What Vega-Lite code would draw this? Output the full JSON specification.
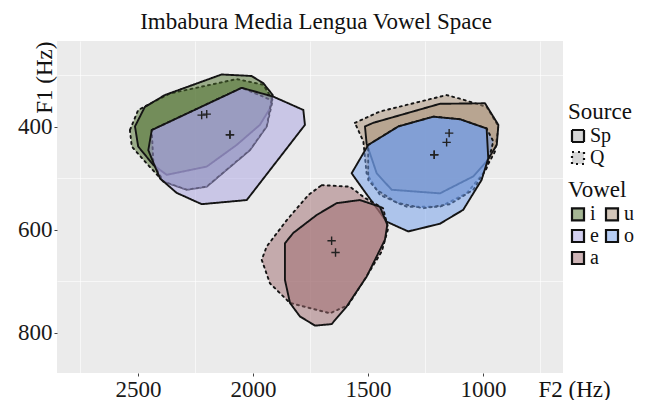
{
  "$schema": "https://vega.github.io/schema/vega-lite/v6.json",
  "width": 506,
  "height": 332,
  "autosize": "none",
  "padding": {"left": 57, "top": 41, "right": 86, "bottom": 27},
  "title": {"text": "Imbabura Media Lengua Vowel Space", "font": "Liberation Serif", "fontSize": 23, "fontWeight": "normal", "color": "#111", "anchor": "middle", "baseline": "alphabetic", "offset": -11, "dx": 6},
  "datasets": {
    "hull": [
      {"vowel":"i","source":"Q","k":1,"F2":2535,"F1":406},{"vowel":"i","source":"Q","k":2,"F2":2527,"F1":438},{"vowel":"i","source":"Q","k":3,"F2":2470,"F1":467},{"vowel":"i","source":"Q","k":4,"F2":2390,"F1":506},{"vowel":"i","source":"Q","k":5,"F2":2288,"F1":522},{"vowel":"i","source":"Q","k":6,"F2":2201,"F1":516},{"vowel":"i","source":"Q","k":7,"F2":2114,"F1":483},{"vowel":"i","source":"Q","k":8,"F2":2013,"F1":445},{"vowel":"i","source":"Q","k":9,"F2":1940,"F1":399},{"vowel":"i","source":"Q","k":10,"F2":1914,"F1":348},{"vowel":"i","source":"Q","k":11,"F2":1955,"F1":318},{"vowel":"i","source":"Q","k":12,"F2":2071,"F1":307},{"vowel":"i","source":"Q","k":13,"F2":2361,"F1":335},{"vowel":"i","source":"Q","k":14,"F2":2499,"F1":367},
      {"vowel":"i","source":"Sp","k":1,"F2":2383,"F1":338},{"vowel":"i","source":"Sp","k":2,"F2":2136,"F1":298},{"vowel":"i","source":"Sp","k":3,"F2":2006,"F1":301},{"vowel":"i","source":"Sp","k":4,"F2":1955,"F1":315},{"vowel":"i","source":"Sp","k":5,"F2":1914,"F1":338},{"vowel":"i","source":"Sp","k":6,"F2":1926,"F1":364},{"vowel":"i","source":"Sp","k":7,"F2":1970,"F1":396},{"vowel":"i","source":"Sp","k":8,"F2":2071,"F1":435},{"vowel":"i","source":"Sp","k":9,"F2":2201,"F1":477},{"vowel":"i","source":"Sp","k":10,"F2":2375,"F1":493},{"vowel":"i","source":"Sp","k":11,"F2":2433,"F1":474},{"vowel":"i","source":"Sp","k":12,"F2":2499,"F1":438},{"vowel":"i","source":"Sp","k":13,"F2":2513,"F1":399},{"vowel":"i","source":"Sp","k":14,"F2":2470,"F1":361},
      {"vowel":"u","source":"Q","k":1,"F2":1557,"F1":392},{"vowel":"u","source":"Q","k":2,"F2":1448,"F1":370},{"vowel":"u","source":"Q","k":3,"F2":1158,"F1":338},{"vowel":"u","source":"Q","k":4,"F2":1093,"F1":346},{"vowel":"u","source":"Q","k":5,"F2":984,"F1":361},{"vowel":"u","source":"Q","k":6,"F2":933,"F1":399},{"vowel":"u","source":"Q","k":7,"F2":948,"F1":448},{"vowel":"u","source":"Q","k":8,"F2":999,"F1":490},{"vowel":"u","source":"Q","k":9,"F2":1071,"F1":529},{"vowel":"u","source":"Q","k":10,"F2":1187,"F1":555},{"vowel":"u","source":"Q","k":11,"F2":1332,"F1":555},{"vowel":"u","source":"Q","k":12,"F2":1448,"F1":532},{"vowel":"u","source":"Q","k":13,"F2":1506,"F1":490},{"vowel":"u","source":"Q","k":14,"F2":1520,"F1":428},
      {"vowel":"u","source":"Sp","k":1,"F2":1513,"F1":399},{"vowel":"u","source":"Sp","k":2,"F2":1477,"F1":392},{"vowel":"u","source":"Sp","k":3,"F2":1187,"F1":355},{"vowel":"u","source":"Sp","k":4,"F2":991,"F1":354},{"vowel":"u","source":"Sp","k":5,"F2":933,"F1":396},{"vowel":"u","source":"Sp","k":6,"F2":940,"F1":435},{"vowel":"u","source":"Sp","k":7,"F2":984,"F1":467},{"vowel":"u","source":"Sp","k":8,"F2":1042,"F1":496},{"vowel":"u","source":"Sp","k":9,"F2":1187,"F1":529},{"vowel":"u","source":"Sp","k":10,"F2":1397,"F1":522},{"vowel":"u","source":"Sp","k":11,"F2":1462,"F1":490},{"vowel":"u","source":"Sp","k":12,"F2":1506,"F1":432},
      {"vowel":"e","source":"Q","k":1,"F2":2440,"F1":406},{"vowel":"e","source":"Q","k":2,"F2":2049,"F1":324},{"vowel":"e","source":"Q","k":3,"F2":1919,"F1":348},{"vowel":"e","source":"Q","k":4,"F2":1940,"F1":399},{"vowel":"e","source":"Q","k":5,"F2":2013,"F1":445},{"vowel":"e","source":"Q","k":6,"F2":2114,"F1":483},{"vowel":"e","source":"Q","k":7,"F2":2201,"F1":516},{"vowel":"e","source":"Q","k":8,"F2":2288,"F1":522},{"vowel":"e","source":"Q","k":9,"F2":2390,"F1":506},{"vowel":"e","source":"Q","k":10,"F2":2433,"F1":470},
      {"vowel":"e","source":"Sp","k":1,"F2":2440,"F1":406},{"vowel":"e","source":"Sp","k":2,"F2":2049,"F1":324},{"vowel":"e","source":"Sp","k":3,"F2":1912,"F1":341},{"vowel":"e","source":"Sp","k":4,"F2":1781,"F1":367},{"vowel":"e","source":"Sp","k":5,"F2":1774,"F1":396},{"vowel":"e","source":"Sp","k":6,"F2":2027,"F1":542},{"vowel":"e","source":"Sp","k":7,"F2":2223,"F1":550},{"vowel":"e","source":"Sp","k":8,"F2":2332,"F1":528},{"vowel":"e","source":"Sp","k":9,"F2":2404,"F1":500},{"vowel":"e","source":"Sp","k":10,"F2":2426,"F1":477},{"vowel":"e","source":"Sp","k":11,"F2":2455,"F1":445},
      {"vowel":"o","source":"Q","k":1,"F2":1499,"F1":435},{"vowel":"o","source":"Q","k":2,"F2":1368,"F1":399},{"vowel":"o","source":"Q","k":3,"F2":1216,"F1":380},{"vowel":"o","source":"Q","k":4,"F2":1100,"F1":385},{"vowel":"o","source":"Q","k":5,"F2":984,"F1":403},{"vowel":"o","source":"Q","k":6,"F2":955,"F1":428},{"vowel":"o","source":"Q","k":7,"F2":984,"F1":480},{"vowel":"o","source":"Q","k":8,"F2":1042,"F1":522},{"vowel":"o","source":"Q","k":9,"F2":1143,"F1":550},{"vowel":"o","source":"Q","k":10,"F2":1260,"F1":558},{"vowel":"o","source":"Q","k":11,"F2":1375,"F1":547},{"vowel":"o","source":"Q","k":12,"F2":1462,"F1":522},{"vowel":"o","source":"Q","k":13,"F2":1499,"F1":503},
      {"vowel":"o","source":"Sp","k":1,"F2":1571,"F1":490},{"vowel":"o","source":"Sp","k":2,"F2":1499,"F1":435},{"vowel":"o","source":"Sp","k":3,"F2":1368,"F1":399},{"vowel":"o","source":"Sp","k":4,"F2":1216,"F1":380},{"vowel":"o","source":"Sp","k":5,"F2":1100,"F1":385},{"vowel":"o","source":"Sp","k":6,"F2":984,"F1":403},{"vowel":"o","source":"Sp","k":7,"F2":977,"F1":461},{"vowel":"o","source":"Sp","k":8,"F2":1006,"F1":503},{"vowel":"o","source":"Sp","k":9,"F2":1086,"F1":561},{"vowel":"o","source":"Sp","k":10,"F2":1187,"F1":588},{"vowel":"o","source":"Sp","k":11,"F2":1325,"F1":603},{"vowel":"o","source":"Sp","k":12,"F2":1419,"F1":584},{"vowel":"o","source":"Sp","k":13,"F2":1520,"F1":522},
      {"vowel":"a","source":"Q","k":1,"F2":1701,"F1":513},{"vowel":"a","source":"Q","k":2,"F2":1578,"F1":516},{"vowel":"a","source":"Q","k":3,"F2":1513,"F1":538},{"vowel":"a","source":"Q","k":4,"F2":1434,"F1":558},{"vowel":"a","source":"Q","k":5,"F2":1412,"F1":597},{"vowel":"a","source":"Q","k":6,"F2":1440,"F1":642},{"vowel":"a","source":"Q","k":7,"F2":1520,"F1":700},{"vowel":"a","source":"Q","k":8,"F2":1586,"F1":746},{"vowel":"a","source":"Q","k":9,"F2":1665,"F1":762},{"vowel":"a","source":"Q","k":10,"F2":1839,"F1":742},{"vowel":"a","source":"Q","k":11,"F2":1926,"F1":704},{"vowel":"a","source":"Q","k":12,"F2":1962,"F1":658},{"vowel":"a","source":"Q","k":13,"F2":1940,"F1":632},{"vowel":"a","source":"Q","k":14,"F2":1853,"F1":581},{"vowel":"a","source":"Q","k":15,"F2":1759,"F1":532},
      {"vowel":"a","source":"Sp","k":1,"F2":1636,"F1":548},{"vowel":"a","source":"Sp","k":2,"F2":1535,"F1":542},{"vowel":"a","source":"Sp","k":3,"F2":1448,"F1":555},{"vowel":"a","source":"Sp","k":4,"F2":1416,"F1":590},{"vowel":"a","source":"Sp","k":5,"F2":1426,"F1":619},{"vowel":"a","source":"Sp","k":6,"F2":1506,"F1":691},{"vowel":"a","source":"Sp","k":7,"F2":1593,"F1":749},{"vowel":"a","source":"Sp","k":8,"F2":1658,"F1":783},{"vowel":"a","source":"Sp","k":9,"F2":1730,"F1":786},{"vowel":"a","source":"Sp","k":10,"F2":1796,"F1":768},{"vowel":"a","source":"Sp","k":11,"F2":1839,"F1":742},{"vowel":"a","source":"Sp","k":12,"F2":1861,"F1":697},{"vowel":"a","source":"Sp","k":13,"F2":1861,"F1":626},{"vowel":"a","source":"Sp","k":14,"F2":1825,"F1":606},{"vowel":"a","source":"Sp","k":15,"F2":1723,"F1":571}
    ],
    "means": [
      {"vowel":"i","source":"Sp","F2":2223,"F1":377},{"vowel":"i","source":"Q","F2":2201,"F1":375},
      {"vowel":"e","source":"Sp","F2":2100,"F1":415},{"vowel":"e","source":"Q","F2":2100,"F1":415},
      {"vowel":"u","source":"Sp","F2":1147,"F1":412},{"vowel":"u","source":"Q","F2":1158,"F1":430},
      {"vowel":"o","source":"Sp","F2":1212,"F1":454},{"vowel":"o","source":"Q","F2":1212,"F1":454},
      {"vowel":"a","source":"Sp","F2":1658,"F1":621},{"vowel":"a","source":"Q","F2":1641,"F1":644}
    ]
  },
  "layer": [
    {
      "data": {"name": "means"},
      "mark": {"type": "point", "opacity": 0},
      "encoding": {
        "x": {"field": "F2", "type": "quantitative", "scale": {"domain": [652, 2852], "reverse": true, "nice": false, "zero": false},
              "axis": {"orient": "top", "values": [2750, 2250, 1750, 1250, 750], "grid": true, "gridWidth": 0.6, "labels": false, "ticks": false, "domain": false, "title": null}},
        "y": {"field": "F1", "type": "quantitative", "scale": {"domain": [233, 878], "reverse": true, "nice": false, "zero": false},
              "axis": {"orient": "right", "values": [300, 500, 700], "grid": true, "gridWidth": 0.6, "labels": false, "ticks": false, "domain": false, "title": null}}
      }
    },
    {
      "data": {"name": "hull"},
      "mark": {"type": "line", "interpolate": "linear-closed", "stroke": "#141414", "strokeWidth": 1.9, "strokeJoin": "round", "strokeCap": "round"},
      "encoding": {
        "x": {"field": "F2", "type": "quantitative",
              "axis": {"orient": "bottom", "values": [2500, 2000, 1500, 1000], "format": "d", "labelFont": "Liberation Serif", "labelFontSize": 23, "titleFont": "Liberation Serif", "titleFontSize": 23, "title": "F2 (Hz)", "titleX": 481, "titleY": 23, "titleAlign": "left", "titleBaseline": "alphabetic", "titleAngle": 0, "labelBaseline": "alphabetic", "labelPadding": 20, "labelOverlap": false, "labelFlush": false}},
        "y": {"field": "F1", "type": "quantitative",
              "axis": {"orient": "left", "values": [400, 600, 800], "format": "d", "labelFont": "Liberation Serif", "labelFontSize": 23, "titleFont": "Liberation Serif", "titleFontSize": 23, "title": "F1 (Hz)", "titleX": -13, "titleY": 0, "titleAlign": "right", "titleBaseline": "middle", "titleAngle": -90, "labelPadding": 2, "labelBaseline": "middle"}},
        "fill": {"field": "vowel", "type": "nominal", "title": "Vowel",
                 "scale": {"domain": ["i", "e", "a", "u", "o"], "range": ["rgba(75,110,42,0.5)", "rgba(167,161,225,0.5)", "rgba(158,105,110,0.5)", "rgba(168,142,115,0.5)", "rgba(112,158,235,0.5)"]},
                 "legend": {"orient": "none", "legendX": 511, "legendY": 138, "columns": 2, "columnPadding": 2, "rowPadding": 0, "symbolType": "square", "symbolSize": 144, "symbolStrokeColor": "#111", "symbolStrokeWidth": 2.2, "labelFontSize": 20, "titlePadding": 2}},
        "strokeDash": {"field": "source", "type": "nominal", "title": "Source",
                       "scale": {"domain": ["Sp", "Q"], "range": [[1, 0], [2, 4]]},
                       "legend": {"orient": "none", "legendX": 511, "legendY": 60, "rowPadding": 0, "symbolType": "square", "symbolSize": 144, "symbolStrokeColor": "#111", "symbolStrokeWidth": 2.2, "symbolFillColor": "#d6d6d6", "labelFontSize": 20, "titlePadding": 2}},
        "detail": [{"field": "vowel"}, {"field": "source"}],
        "order": {"field": "k", "type": "quantitative"}
      }
    },
    {
      "data": {"name": "means"},
      "mark": {"type": "point", "shape": "M-1,0H1M0,-1V1", "size": 70, "filled": false, "stroke": "#222", "strokeWidth": 1.4, "opacity": 1},
      "encoding": {
        "x": {"field": "F2", "type": "quantitative", "axis": null},
        "y": {"field": "F1", "type": "quantitative", "axis": null}
      }
    }
  ],
  "resolve": {"axis": {"x": "independent", "y": "independent"}},
  "config": {
    "view": {"fill": "#ebebeb", "stroke": null},
    "font": "Liberation Serif",
    "axis": {"labelFont": "Liberation Serif", "labelFontSize": 23, "labelColor": "#1a1a1a", "titleFont": "Liberation Serif", "titleFontSize": 23, "titleFontWeight": "normal", "titleColor": "#111", "domain": false, "tickColor": "#444", "tickSize": 3, "tickWidth": 1, "gridColor": "#ffffff", "gridWidth": 1.2, "gridOpacity": 1},
    "legend": {"titleFont": "Liberation Serif", "titleFontSize": 23, "titleFontWeight": "normal", "titleColor": "#111", "labelFont": "Liberation Serif", "labelColor": "#111", "labelOffset": 2}
  }
}
